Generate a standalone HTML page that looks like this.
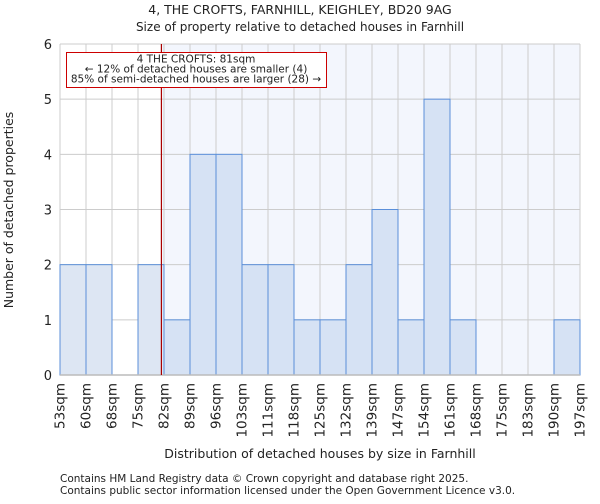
<!DOCTYPE html>
<html><head><meta charset="utf-8"><style>
body{margin:0;background:#fff;font-family:"DejaVu Sans","Liberation Sans",sans-serif}
svg text{font-family:"DejaVu Sans","Liberation Sans",sans-serif;fill:#222}
</style></head><body>
<svg id="chart" width="600" height="500" xmlns="http://www.w3.org/2000/svg">
<text x="300" y="14" text-anchor="middle" font-size="12.5">4, THE CROFTS, FARNHILL, KEIGHLEY, BD20 9AG</text>
<text x="300" y="31" text-anchor="middle" font-size="12">Size of property relative to detached houses in Farnhill</text>
<g id="plot"></g>
<text x="320" y="458" text-anchor="middle" font-size="12.5">Distribution of detached houses by size in Farnhill</text>
<text transform="translate(13,210) rotate(-90)" text-anchor="middle" font-size="12.5">Number of detached properties</text>
<text x="60" y="482" font-size="10.5">Contains HM Land Registry data © Crown copyright and database right 2025.</text>
<text x="60" y="494" font-size="10.5">Contains public sector information licensed under the Open Government Licence v3.0.</text>
</svg>
<script>
const tickLabels=["53sqm","60sqm","68sqm","75sqm","82sqm","89sqm","96sqm","103sqm","111sqm","118sqm","125sqm","132sqm","139sqm","147sqm","154sqm","161sqm","168sqm","175sqm","183sqm","190sqm","197sqm"];
const counts=[2,2,0,2,1,4,4,2,2,1,1,2,3,1,5,1,0,0,0,1];
const yTicks=[0,1,2,3,4,5,6];
const markerBin=3.9;
const X0=60,X1=580,Y0=375,Y1=44,YMAX=6;
const bw=(X1-X0)/counts.length;
const xs=i=>X0+i*bw;
const ys=v=>Y0-(Y0-Y1)*v/YMAX;
const NS="http://www.w3.org/2000/svg";
const g=document.getElementById('plot');
function mk(t,a){const e=document.createElementNS(NS,t);for(const k in a)e.setAttribute(k,a[k]);g.appendChild(e);return e;}
const mx=xs(markerBin);
let e=mk('rect',{x:mx,y:Y1,width:X1-mx,height:Y0-Y1,fill:'#f3f6fd'});


for(let i=0;i<=counts.length;i++){e=mk('line',{x1:xs(i),x2:xs(i),y1:Y1,y2:Y0,stroke:'#ccc','stroke-width':1});

}
yTicks.forEach(v=>{e=mk('line',{x1:X0,x2:X1,y1:ys(v),y2:ys(v),stroke:'#ccc','stroke-width':1});


e=mk('text',{x:X0-8,y:ys(v)+5,'text-anchor':'end','font-size':13});e.textContent=v;

});
counts.forEach((c,i)=>{if(!c)return;const right=xs(i)>=mx;
e=mk('rect',{x:xs(i),y:ys(c),width:bw,height:Y0-ys(c),fill:right?'#d6e2f4':'#dde6f3',stroke:'#5b8fd9','stroke-width':1});

});
e=mk('line',{x1:X0,x2:X1,y1:Y0,y2:Y0,stroke:'#bbb','stroke-width':1.5});


tickLabels.forEach((t,i)=>{e=mk('text',{transform:`translate(${xs(i)+4.5},383) rotate(-90)`,'text-anchor':'end','font-size':13.5});e.textContent=t;

});
e=mk('line',{x1:mx,x2:mx,y1:Y1,y2:Y0,stroke:'#a00','stroke-width':1.2});


e=mk('rect',{x:66.5,y:52.5,width:260,height:35,fill:'#fff',stroke:'#c00','stroke-width':1});


["4 THE CROFTS: 81sqm","← 12% of detached houses are smaller (4)","85% of semi-detached houses are larger (28) →"].forEach((t,k)=>{
e=mk('text',{x:196,y:62.5+k*10,'text-anchor':'middle','font-size':10.5});e.textContent=t;

});
</script>
</body></html>
